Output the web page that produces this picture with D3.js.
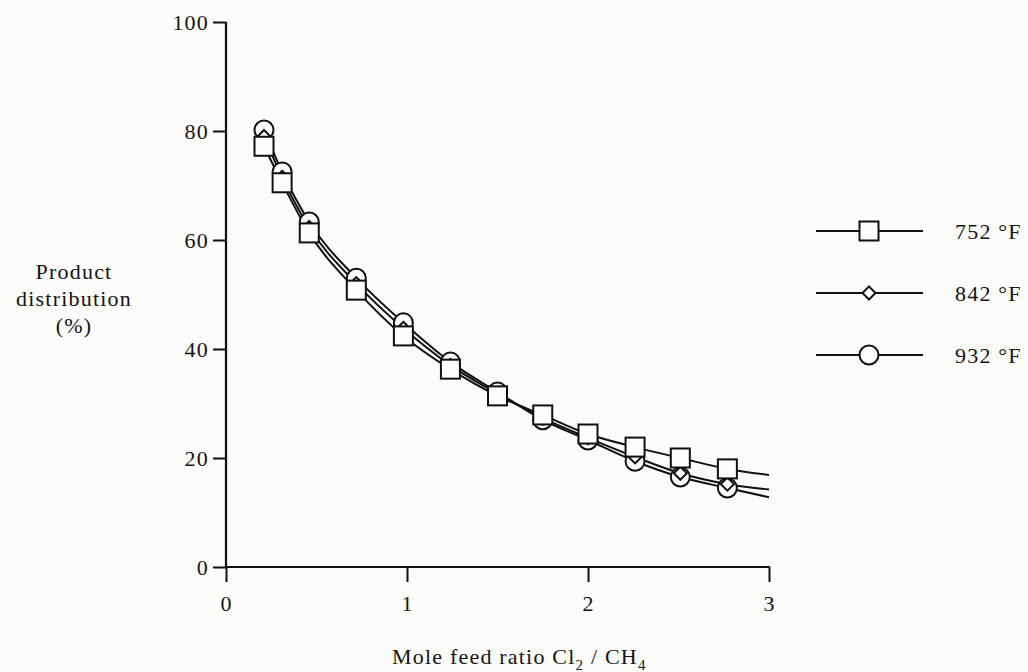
<!DOCTYPE html>
<html>
<head>
<meta charset="utf-8">
<script src="https://cdn.jsdelivr.net/npm/d3@7"></script>
<style>
  body { margin: 0; background: #fbfbfa; }
  svg { display: block; }
  text { font-family: "Liberation Serif", "Times New Roman", serif; fill: #151515; letter-spacing: 1.2px; }
</style>
</head>
<body>
<svg id="chart"></svg>
<script>
const chartSize = { width: 1028, height: 672 };
const margin = { left: 226, top: 22, right: 259, bottom: 105 };
const width = chartSize.width - margin.left - margin.right;
const height = chartSize.height - margin.top - margin.bottom;

// mole feed ratio of the measured points
const ratios = [0.21, 0.31, 0.46, 0.72, 0.98, 1.24, 1.5, 1.75, 2.0, 2.26, 2.51, 2.77];
const values752 = [77.2, 70.5, 61.3, 50.8, 42.4, 36.3, 31.4, 27.9, 24.4, 22.0, 20.0, 18.0];
const values842 = [79.0, 71.5, 62.3, 52.0, 43.8, 37.0, 31.8, 27.3, 23.7, 20.2, 17.2, 15.2];
const values932 = [80.2, 72.5, 63.3, 53.0, 44.8, 37.6, 32.1, 27.0, 23.3, 19.4, 16.5, 14.5];
// where each drawn curve ends at ratio 3
const lineEndRatio = 3;
const lineEnds = { "752": 16.9, "842": 14.2, "932": 12.8 };
const xTicks = [0, 1, 2, 3];
const yTicks = [0, 20, 40, 60, 80, 100];

const series = [
  { name: "932", label: "932 °F", marker: "circle", values: values932 },
  { name: "842", label: "842 °F", marker: "diamond", values: values842 },
  { name: "752", label: "752 °F", marker: "square", values: values752 }
];

const svg = d3.select("#chart")
  .attr("width", chartSize.width)
  .attr("height", chartSize.height);

const g = svg.append("g")
  .attr("transform", `translate(${margin.left},${margin.top})`);

const x = d3.scaleLinear().domain([0, 3]).range([0, width]);
const y = d3.scaleLinear().domain([0, 100]).range([height, 0]);

// axes
const yAxis = g.append("g")
  .call(d3.axisLeft(y).tickValues(yTicks).tickSize(13).tickPadding(4).tickFormat(d3.format("d")));
const xAxis = g.append("g")
  .attr("transform", `translate(0,${height})`)
  .call(d3.axisBottom(x).tickValues(xTicks).tickSize(15).tickPadding(13).tickFormat(d3.format("d")));

[xAxis, yAxis].forEach(a => {
  a.select(".domain").remove();
  a.selectAll("line").attr("stroke", "#111").attr("stroke-width", 2);
  a.selectAll("text")
    .style("font-family", "Liberation Serif, serif")
    .style("font-size", "22px")
    .attr("fill", "#151515");
});

g.append("line")
  .attr("x1", 0).attr("x2", 0).attr("y1", y(100)).attr("y2", y(0) + 1)
  .attr("stroke", "#111").attr("stroke-width", 2.2);
g.append("line")
  .attr("x1", -1).attr("x2", x(3) + 1).attr("y1", y(0)).attr("y2", y(0))
  .attr("stroke", "#111").attr("stroke-width", 2.2);

// curves
const line = d3.line()
  .x(d => x(d[0]))
  .y(d => y(d[1]))
  .curve(d3.curveMonotoneX);

series.forEach(s => {
  const pts = ratios.map((r, i) => [r, s.values[i]]);
  pts.push([lineEndRatio, lineEnds[s.name]]);
  g.append("path")
    .datum(pts)
    .attr("fill", "none")
    .attr("stroke", "#111")
    .attr("stroke-width", 2)
    .attr("d", line);
});

const drawMarker = (sel, type) => {
  if (type === "square") {
    sel.append("rect").attr("x", -9.5).attr("y", -9.5).attr("width", 19).attr("height", 19);
  } else if (type === "circle") {
    sel.append("circle").attr("r", 9.5);
  } else {
    sel.append("path").attr("d", "M0,-6.5L6.5,0L0,6.5L-6.5,0Z");
  }
  sel.selectAll("*").attr("fill", "#fdfdfd").attr("stroke", "#111").attr("stroke-width", 2);
};

series.forEach(s => {
  g.append("g").selectAll("g")
    .data(ratios.map((r, i) => [r, s.values[i]]))
    .join("g")
    .attr("transform", d => `translate(${x(d[0])},${y(d[1])})`)
    .each(function() { drawMarker(d3.select(this), s.marker); });
});

// axis titles
svg.append("text")
  .attr("x", 392).attr("y", 664)
  .style("font-size", "22px")
  .call(t => {
    t.append("tspan").text("Mole feed ratio Cl");
    t.append("tspan").text("2").attr("dy", 6).style("font-size", "15px");
    t.append("tspan").text(" / CH").attr("dy", -6);
    t.append("tspan").text("4").attr("dy", 6).style("font-size", "15px");
  });

svg.append("text")
  .attr("text-anchor", "middle")
  .style("font-size", "22px")
  .selectAll("tspan")
  .data(["Product", "distribution", "(%)"])
  .join("tspan")
  .attr("x", 74)
  .attr("y", (d, i) => 279 + i * 27)
  .text(d => d);

// legend
const legendRows = [
  { s: series[2], y: 231 },
  { s: series[1], y: 293 },
  { s: series[0], y: 355 }
];
const legend = svg.append("g");
legendRows.forEach(row => {
  const lg = legend.append("g").attr("transform", `translate(0,${row.y})`);
  lg.append("line").attr("x1", 816).attr("x2", 923).attr("y1", 0).attr("y2", 0)
    .attr("stroke", "#111").attr("stroke-width", 2);
  const m = lg.append("g").attr("transform", "translate(869,0)");
  drawMarker(m, row.s.marker);
  lg.append("text").attr("x", 955).attr("y", 8)
    .style("font-size", "22px")
    .text(row.s.label);
});
</script>
</body>
</html>
